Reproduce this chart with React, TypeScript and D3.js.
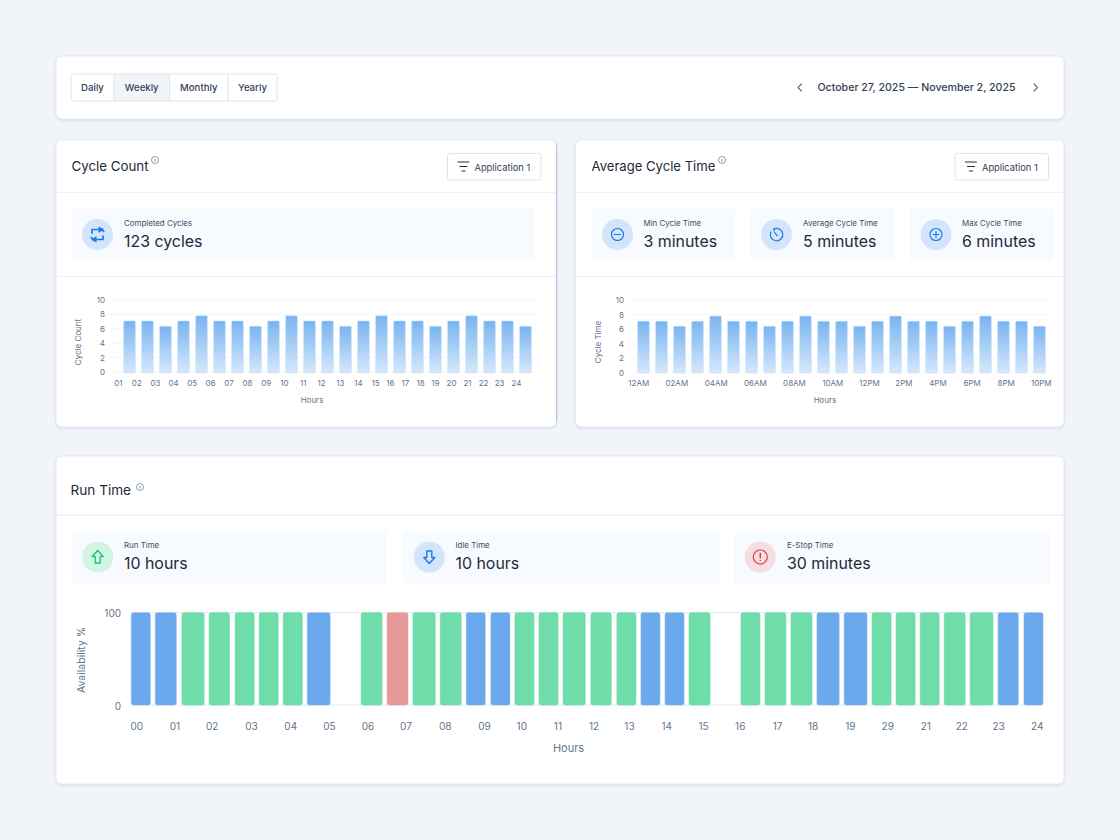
import React, { useEffect, useRef } from 'react'
import * as d3 from 'd3'

const FONT = 'Inter, sans-serif'
const INK = '#1e293b'
const MUTED = '#64748b'

// bar heights
const cycleCounts = [7.1, 7.1, 6.35, 7.1, 7.8, 7.1, 7.1, 6.35, 7.1, 7.8, 7.1, 7.1, 6.35, 7.1, 7.8, 7.1, 7.1, 6.35, 7.1, 7.8, 7.1, 7.1, 6.35]
const cycleTimes = [7.1, 7.1, 6.4, 7.1, 7.8, 7.1, 7.1, 6.4, 7.1, 7.8, 7.1, 7.1, 6.4, 7.1, 7.8, 7.1, 7.1, 6.4, 7.1, 7.8, 7.1, 7.1, 6.4]
const yTicks = [0, 2, 4, 6, 8, 10]

const countLabels = ['01', '02', '03', '04', '05', '06', '07', '08', '09', '10', '11', '12', '13', '14', '15', '16', '17', '18', '19', '20', '21', '22', '23', '24']
const countLabelSlots = [-0.14, 0.88, 1.92, 2.92, 3.95, 4.97, 6, 7.03, 8.07, 9.08, 10.12, 11.14, 12.18, 13.19, 14.14, 14.97, 15.8, 16.64, 17.47, 18.36, 19.25, 20.14, 21.03, 21.97]
const timeLabels = ['12AM', '02AM', '04AM', '06AM', '08AM', '10AM', '12PM', '2PM', '4PM', '6PM', '8PM', '10PM']
const timeLabelSlots = [0.21, 2.32, 4.51, 6.69, 8.86, 10.99, 13.03, 14.94, 16.83, 18.73, 20.62, 22.57]

// run time segments, minutes since the start of the day
const runStarts = [0, 38, 80, 123, 164, 202, 240, 278, 363, 404, 445, 488, 529, 568, 606, 644, 682, 726, 767, 805, 843, 881, 963, 1001, 1042, 1083, 1126, 1170, 1208, 1246, 1284, 1325, 1369, 1410]
const runEnds = [30, 71, 115, 155, 194, 232, 270, 314, 396, 437, 480, 521, 559, 598, 636, 674, 717, 758, 797, 835, 873, 914, 993, 1034, 1075, 1118, 1162, 1200, 1238, 1276, 1317, 1361, 1401, 1440]
const runStates = ['idle', 'idle', 'run', 'run', 'run', 'run', 'run', 'idle', 'run', 'stop', 'run', 'run', 'idle', 'idle', 'run', 'run', 'run', 'run', 'run', 'idle', 'idle', 'run', 'run', 'run', 'run', 'idle', 'idle', 'run', 'run', 'run', 'run', 'run', 'idle', 'idle']
const runLabels = ['00', '01', '02', '03', '04', '05', '06', '07', '08', '09', '10', '11', '12', '13', '14', '15', '16', '17', '18', '19', '29', '21', '22', '23', '24']
const runLabelMinutes = [8, 68, 127, 189, 251, 312, 373, 433, 495, 557, 616, 673, 730, 786, 845, 903, 961, 1020, 1076, 1135, 1194, 1254, 1311, 1369, 1430]
const stateColors: Record<string, string> = { idle: '#6aa9ec', run: '#6eddaa', stop: '#e59a97' }
const stateEdges: Record<string, string> = { idle: '#7fb5ef', run: '#63dba3', stop: '#e8a3a0' }

const periods = ['Daily', 'Weekly', 'Monthly', 'Yearly']
const periodEdges = [71, 114, 169.5, 228, 277]

type Glyph = 'cycle' | 'minus' | 'clock' | 'plus' | 'up' | 'down' | 'alert'

function Card({ x, y, w, h, edge }: { x: number, y: number, w: number, h: number, edge?: boolean }) {
  return (
    <g>
      <rect x={x} y={y} width={w} height={h} rx={6} fill="#fff" stroke="#e6ebf1"
        style={{ filter: 'drop-shadow(0 1px 1px rgba(100,116,139,0.2))' }} />
      {edge && <line x1={x + w} x2={x + w} y1={y + 5} y2={y + h - 5} stroke="#b6c2d2" />}
    </g>
  )
}

function Icon({ name, cx, cy }: { name: Glyph, cx: number, cy: number }) {
  const color = name === 'up' ? '#22c77a' : name === 'alert' ? '#dc3b3b' : '#1a7be6'
  const bg = name === 'up' ? '#d3f3e5' : name === 'alert' ? '#f3dfe2' : '#d3e5fb'
  const s = { fill: 'none', stroke: color, strokeWidth: 1.2, strokeLinecap: 'round' as const, strokeLinejoin: 'round' as const }
  return (
    <g transform={`translate(${cx},${cy})`}>
      <circle r={15.5} fill={bg} />
      {name === 'cycle' && (
        <g {...s} strokeWidth={1.7}>
          <path d="M-5.5 -1.5 V-5 H3" /><path d="M5.5 1.5 V5 H-3" />
          <path d="M1.5 -6.8 L5.2 -4.9 L1.5 -3" fill={color} /><path d="M-1.5 6.8 L-5.2 4.9 L-1.5 3" fill={color} />
          <path d="M-6.3 3 L-3.8 5.5" /><path d="M6.3 -3 L3.8 -5.5" />
        </g>
      )}
      {name === 'minus' && <g {...s}><circle r={6} /><path d="M-3 0 H3" /></g>}
      {name === 'plus' && <g {...s}><circle r={6} /><path d="M-3 0 H3 M0 -3 V3" /></g>}
      {name === 'clock' && <g {...s}><path d="M-2.4 -5.6 A6.2 6.2 0 1 1 -5.6 -2.4" /><path d="M-2.4 -5.6 L-2.4 -3.6 M-1.8 -1.8 L0.6 1" /></g>}
      {name === 'up' && <path {...s} strokeWidth={1.4} d="M0 -6.5 L5.5 -0.5 H2.5 V6 H-2.5 V-0.5 H-5.5 Z" />}
      {name === 'down' && <path {...s} strokeWidth={1.4} d="M0 6.5 L5.5 0.5 H2.5 V-6 H-2.5 V0.5 H-5.5 Z" />}
      {name === 'alert' && <g {...s}><circle r={7} /><path d="M0 -3.6 V0.8 M0 3.4 V3.5" strokeWidth={1.5} /></g>}
    </g>
  )
}

function Stat({ x, y, w, h, ix, tx, glyph, label, value }: { x: number, y: number, w: number, h: number, ix: number, tx: number, glyph: Glyph, label: string, value: string }) {
  return (
    <g>
      <rect x={x} y={y} width={w} height={h} rx={2} fill="#f7fafe" />
      <Icon name={glyph} cx={ix} cy={y + h / 2 - 0.5} />
      <text x={tx} y={y + 14} fontSize={7.9} fill="#3f4d63" dominantBaseline="central">{label}</text>
      <text x={tx} y={y + 32} fontSize={15.9} fill={INK} dominantBaseline="central">{value}</text>
    </g>
  )
}

function Title({ x, y, text, size, ix, iy }: { x: number, y: number, text: string, size: number, ix: number, iy: number }) {
  return (
    <g>
      <text x={x} y={y} fontSize={size} fontWeight={400} fill={INK} dominantBaseline="central">{text}</text>
      <circle cx={ix} cy={iy} r={3.5} fill="none" stroke="#64748b" strokeWidth={0.7} />
      <line x1={ix} x2={ix} y1={iy - 1.2} y2={iy + 1.6} stroke="#64748b" strokeWidth={0.8} />
    </g>
  )
}

function Filter({ x, y }: { x: number, y: number }) {
  return (
    <g>
      <rect x={x} y={y} width={93.5} height={26.5} rx={2.5} fill="#fff" stroke="#dfe5ec" />
      <path d={`M${x + 10.5} ${y + 8.5} h11 M${x + 12.5} ${y + 13} h7 M${x + 14.5} ${y + 17.5} h3`} stroke={INK} strokeWidth={1.1} strokeLinecap="round" />
      <text x={x + 27} y={y + 13.5} fontSize={9.3} fontWeight={400} fill="#334155" dominantBaseline="central">Application 1</text>
    </g>
  )
}

type BarChartProps = {
  id: string,
  values: number[],
  labels: string[],
  labelSlots: number[],
  yTitle: string,
  yTitleX: number,
  gridLeft: number,
  gridRight: number,
  bandLeft: number,
  tickRight: number,
  hoursX: number,
  yZero: number,
  yTop: number
}

function BarChart({ id, values, labels, labelSlots, yTitle, yTitleX, gridLeft, gridRight, bandLeft, tickRight, hoursX, yZero, yTop }: BarChartProps) {
  const ref = useRef<SVGGElement>(null)

  useEffect(() => {
    const g = d3.select(ref.current)
    g.html('')
    const step = 18
    const x = d3.scaleBand<number>().domain(d3.range(values.length))
      .range([bandLeft, bandLeft + step * values.length]).paddingInner(0.35).paddingOuter(0.175)
    const slot = d3.scaleLinear().domain([0, values.length]).range([bandLeft, bandLeft + step * values.length])
    const y = d3.scaleLinear().domain([0, 10]).range([yZero, yTop])

    const grad = g.append('defs').append('linearGradient').attr('id', id)
      .attr('x1', 0).attr('x2', 0).attr('y1', 0).attr('y2', 1)
    grad.append('stop').attr('offset', 0).attr('stop-color', '#78b4ef')
    grad.append('stop').attr('offset', 1).attr('stop-color', '#d6e8fb')

    g.append('g').selectAll('line').data(yTicks).join('line')
      .attr('x1', gridLeft).attr('x2', gridRight)
      .attr('y1', d => y(d)).attr('y2', d => y(d))
      .attr('stroke', '#f3f6fa')

    g.append('g').selectAll('rect').data(values).join('rect')
      .attr('x', (_, i) => x(i) as number)
      .attr('width', x.bandwidth())
      .attr('y', d => y(d))
      .attr('height', d => 373 - y(d))
      .attr('rx', 1)
      .attr('fill', `url(#${id})`)
      .attr('stroke', 'rgba(200,224,250,0.7)')
      .attr('stroke-width', 0.8)

    const yAxis = g.append('g').attr('transform', `translate(${tickRight},0)`)
      .call(d3.axisLeft(y).tickValues(yTicks).tickSize(0).tickPadding(0))
    const xAxis = g.append('g').attr('transform', 'translate(0,380)')
      .call(d3.axisBottom(slot).tickValues(labelSlots).tickSize(0).tickPadding(0)
        .tickFormat((_, i) => labels[i]))
    for (const axis of [xAxis, yAxis]) {
      axis.select('.domain').remove()
      axis.selectAll('text').attr('fill', MUTED).attr('font-size', 8).attr('font-family', FONT)
    }

    g.append('text').attr('x', hoursX).attr('y', 400).attr('text-anchor', 'middle')
      .attr('dominant-baseline', 'central').attr('font-size', 8).attr('fill', MUTED).text('Hours')
    g.append('text').attr('transform', `translate(${yTitleX},342) rotate(-90)`).attr('text-anchor', 'middle')
      .attr('dominant-baseline', 'central').attr('font-size', 8).attr('fill', MUTED).text(yTitle)
  }, [id, values, labels, labelSlots, yTitle, yTitleX, gridLeft, gridRight, bandLeft, tickRight, hoursX, yZero, yTop])

  return <g ref={ref} />
}

function RunChart() {
  const ref = useRef<SVGGElement>(null)

  useEffect(() => {
    const g = d3.select(ref.current)
    g.html('')
    const x = d3.scaleLinear().domain([0, 1440]).range([131.3, 1043])
    const y = d3.scaleLinear().domain([0, 100]).range([705, 612.7])

    g.append('g').selectAll('line').data([0, 100]).join('line')
      .attr('x1', x(0)).attr('x2', x(1440))
      .attr('y1', d => y(d)).attr('y2', d => y(d))
      .attr('stroke', '#e2e8f0')

    g.append('g').selectAll('rect').data(runStarts).join('rect')
      .attr('x', d => x(d))
      .attr('width', (d, i) => x(runEnds[i]) - x(d))
      .attr('y', y(100))
      .attr('height', y(0) - y(100))
      .attr('rx', 2)
      .attr('fill', (_, i) => stateColors[runStates[i]])
      .attr('stroke', (_, i) => stateEdges[runStates[i]])
      .attr('stroke-width', 0.6)

    const yAxis = g.append('g').attr('transform', 'translate(121,1)')
      .call(d3.axisLeft(y).tickValues([0, 100]).tickSize(0).tickPadding(0))
    const xAxis = g.append('g').attr('transform', 'translate(0,723)')
      .call(d3.axisBottom(x).tickValues(runLabelMinutes).tickSize(0).tickPadding(0)
        .tickFormat((_, i) => runLabels[i]))
    for (const axis of [xAxis, yAxis]) {
      axis.select('.domain').remove()
      axis.selectAll('text').attr('fill', MUTED).attr('font-size', 10).attr('font-family', FONT)
    }

    g.append('text').attr('x', 568.5).attr('y', 747.5).attr('text-anchor', 'middle')
      .attr('dominant-baseline', 'central').attr('font-size', 11).attr('fill', MUTED).text('Hours')
    g.append('text').attr('transform', 'translate(81,660) rotate(-90)').attr('text-anchor', 'middle')
      .attr('dominant-baseline', 'central').attr('font-size', 10.5).attr('fill', MUTED).text('Availability %')
  }, [])

  return <g ref={ref} />
}

export default function App() {
  return (
    <svg width={1120} height={840} viewBox="0 0 1120 840" fontFamily={FONT}
      style={{ position: 'absolute', left: 0, top: 0, display: 'block' }}>
      <rect width={1120} height={840} fill="#f1f4f9" />

      <Card x={56} y={56} w={1008} h={63} />
      <rect x={periodEdges[1]} y={74} width={periodEdges[2] - periodEdges[1]} height={27} fill="#f1f5f9" />
      <rect x={71} y={74} width={206} height={27} rx={2.5} fill="none" stroke="#dfe5ec" />
      {periods.map((p, i) => (
        <g key={p}>
          {i > 0 && <line x1={periodEdges[i]} x2={periodEdges[i]} y1={74} y2={101} stroke="#dfe5ec" />}
          <text x={(periodEdges[i] + periodEdges[i + 1]) / 2} y={87.8} textAnchor="middle" dominantBaseline="central"
            fontSize={9.6} fontWeight={500} fill="#334155">{p}</text>
        </g>
      ))}
      <path d="M801.5 84 L798 87.5 L801.5 91" fill="none" stroke="#64748b" strokeWidth={1.2} strokeLinecap="round" strokeLinejoin="round" />
      <path d="M1034 84 L1037.5 87.5 L1034 91" fill="none" stroke="#64748b" strokeWidth={1.2} strokeLinecap="round" strokeLinejoin="round" />
      <text x={916.5} y={87} textAnchor="middle" dominantBaseline="central" fontSize={10.6} fontWeight={500} fill="#334155">
        October 27, 2025 — November 2, 2025
      </text>

      <Card x={56} y={140} w={500.5} h={287} edge />
      <Title x={71.5} y={165.5} text="Cycle Count" size={13.3} ix={155} iy={160} />
      <Filter x={447.5} y={153.5} />
      <line x1={56} x2={556} y1={192.5} y2={192.5} stroke="#eef1f5" />
      <Stat x={72} y={209} w={462.5} h={52} ix={97.5} tx={124} glyph="cycle" label="Completed Cycles" value="123 cycles" />
      <line x1={56} x2={556} y1={276.5} y2={276.5} stroke="#eef1f5" />
      <BarChart id="countFill" values={cycleCounts} labels={countLabels} labelSlots={countLabelSlots} yTitle="Cycle Count" yTitleX={78}
        gridLeft={110} gridRight={540} bandLeft={120.5} tickRight={105} hoursX={312} yZero={372} yTop={300} />

      <Card x={575.5} y={140} w={488.5} h={287} />
      <Title x={591.5} y={165.5} text="Average Cycle Time" size={13.1} ix={722} iy={160} />
      <Filter x={955} y={153.5} />
      <line x1={576} x2={1064} y1={192.5} y2={192.5} stroke="#eef1f5" />
      <Stat x={591.5} y={209} w={143.5} h={52} ix={617.5} tx={643.5} glyph="minus" label="Min Cycle Time" value="3 minutes" />
      <Stat x={750.5} y={209} w={144} h={52} ix={776.5} tx={803} glyph="clock" label="Average Cycle Time" value="5 minutes" />
      <Stat x={910} y={209} w={143.5} h={52} ix={936} tx={962} glyph="plus" label="Max Cycle Time" value="6 minutes" />
      <line x1={576} x2={1064} y1={276.5} y2={276.5} stroke="#eef1f5" />
      <BarChart id="timeFill" values={cycleTimes} labels={timeLabels} labelSlots={timeLabelSlots} yTitle="Cycle Time" yTitleX={597.5}
        gridLeft={630} gridRight={1048} bandLeft={634.5} tickRight={624} hoursX={825} yZero={373} yTop={300} />

      <Card x={56} y={456} w={1008} h={328} />
      <Title x={70.5} y={490} text="Run Time" size={13.6} ix={140} iy={487} />
      <line x1={56} x2={1064} y1={515} y2={515} stroke="#eceff4" strokeWidth={1.5} />
      <Stat x={72} y={531} w={315} h={53} ix={97.7} tx={124} glyph="up" label="Run Time" value="10 hours" />
      <Stat x={403} y={531} w={316.5} h={53} ix={429.3} tx={455.5} glyph="down" label="Idle Time" value="10 hours" />
      <Stat x={734.5} y={531} w={315.5} h={53} ix={760.3} tx={787} glyph="alert" label="E-Stop Time" value="30 minutes" />
      <RunChart />
    </svg>
  )
}
